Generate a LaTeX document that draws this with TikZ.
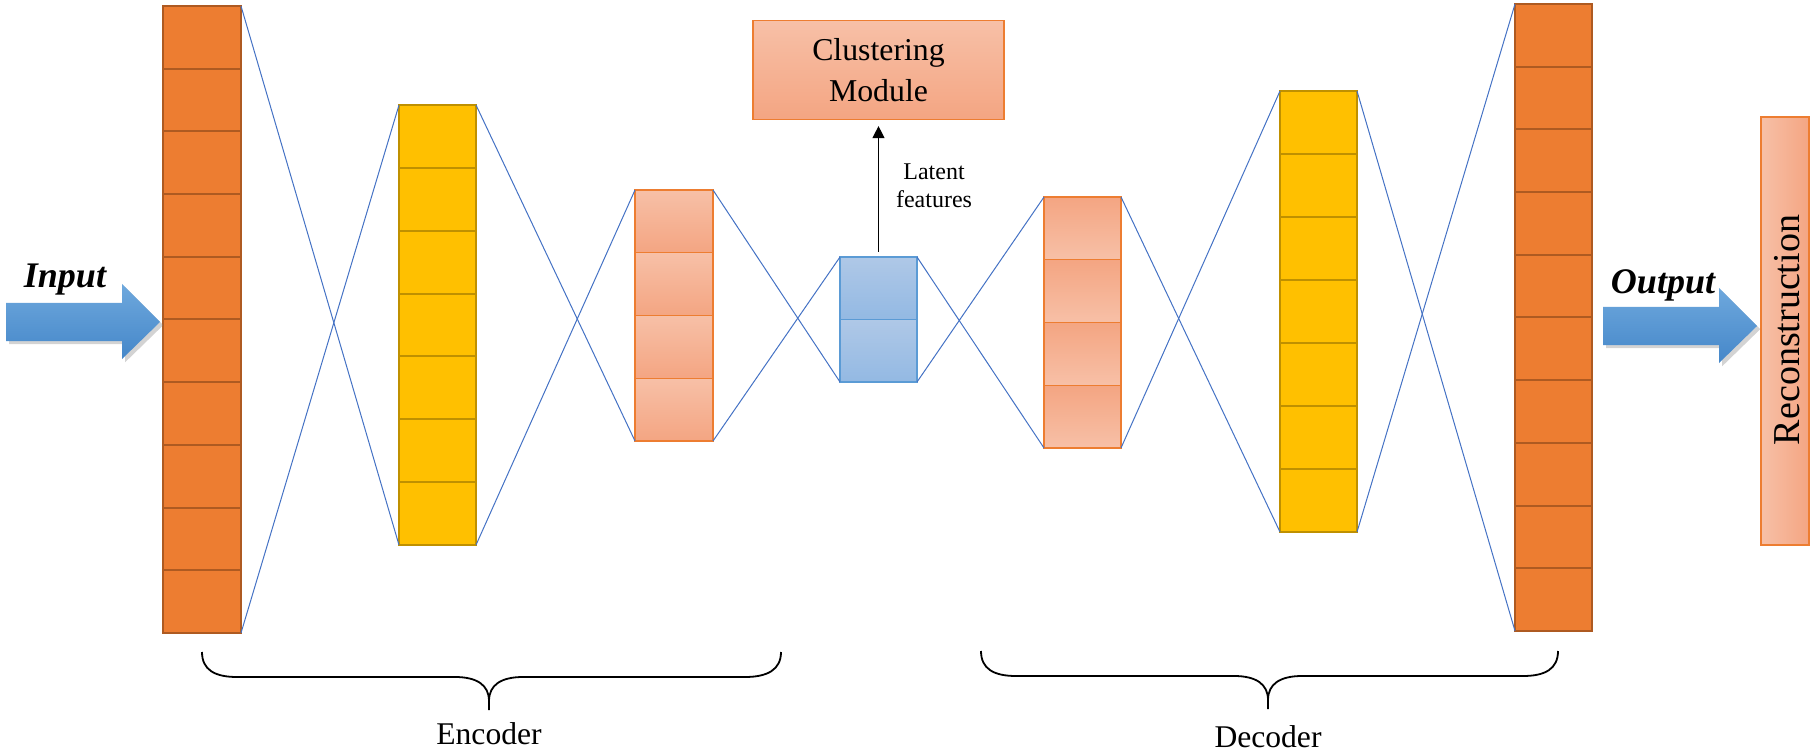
\documentclass[tikz,border=0pt]{standalone}
\usepackage{fontspec}
\setmainfont{Liberation Serif}
\usetikzlibrary{shadows,arrows.meta}
\definecolor{orA}{HTML}{ED7D31}
\definecolor{orB}{HTML}{AE5A21}
\definecolor{yeA}{HTML}{FFC000}
\definecolor{yeB}{HTML}{BF9000}
\definecolor{peL}{HTML}{F7C0A7}
\definecolor{peD}{HTML}{F4A582}
\definecolor{blL}{HTML}{AFC8E7}
\definecolor{blD}{HTML}{93B9E3}
\definecolor{blE}{HTML}{5B9BD5}
\definecolor{lnk}{HTML}{4472C4}
\definecolor{arL}{HTML}{6EA8DD}
\definecolor{arD}{HTML}{4587C9}
\tikzset{
  cellbox/.style={inner sep=0pt, outer sep=0pt, anchor=north west},
  orcell/.style={cellbox, fill=orA, draw=orB, line width=1pt},
  yecell/.style={cellbox, fill=yeA, draw=yeB, line width=1pt},
  peupcell/.style={cellbox, top color=peL, bottom color=peD, draw=orA, line width=0.6pt},
  pedowncell/.style={cellbox, top color=peD, bottom color=peL, draw=orA, line width=0.6pt},
  blcell/.style={cellbox, top color=blL, bottom color=blD, draw=blE, line width=0.6pt},
  layerframe/.style={inner sep=0pt, outer sep=0pt, anchor=north west},
  link/.style={draw=lnk, line width=0.5pt},
  bracepath/.style={draw=black, line width=0.9pt},
  bigarrow/.style={top color=arL, bottom color=arD, drop shadow={opacity=0.35, shadow xshift=1.6pt, shadow yshift=-1.6pt}},
  arrowlabel/.style={font=\fontsize{18}{20}\selectfont\bfseries\itshape, anchor=base, inner sep=0pt},
  bracelabel/.style={font=\fontsize{15.8}{19}\selectfont, anchor=base, inner sep=0pt},
}
\newcommand\mklayer[7]{%
  \foreach \i in {1,...,#7}{
    \node[#2, minimum width=#5*0.5pt, minimum height=#6*0.5pt] at (#3,{#4+(\i-1)*#6}) {};
  }
  \node[layerframe, minimum width=#5*0.5pt, minimum height=#7*#6*0.5pt] (#1) at (#3,#4) {};
}
\begin{document}
\begin{tikzpicture}[x=0.5pt, y=-0.5pt]
\useasboundingbox (0,0) rectangle (1815,754);

% layers
\mklayer{L1}{orcell}{163}{6}{78}{62.7}{10}
\mklayer{L2}{yecell}{399}{105}{77}{62.86}{7}
\mklayer{L3}{peupcell}{635}{190}{78}{62.75}{4}
\mklayer{Lat}{blcell}{840}{257}{77}{62.5}{2}
\mklayer{L5}{pedowncell}{1044}{197}{77}{62.75}{4}
\mklayer{L6}{yecell}{1280}{91}{77}{63}{7}
\mklayer{L7}{orcell}{1515}{4}{77}{62.7}{10}

% links
\draw[link] (L1.north east) -- (L2.south west);
\draw[link] (L1.south east) -- (L2.north west);
\draw[link] (L2.north east) -- (L3.south west);
\draw[link] (L2.south east) -- (L3.north west);
\draw[link] (L3.north east) -- (Lat.south west);
\draw[link] (L3.south east) -- (Lat.north west);
\draw[link] (Lat.north east) -- (L5.south west);
\draw[link] (Lat.south east) -- (L5.north west);
\draw[link] (L5.north east) -- (L6.south west);
\draw[link] (L5.south east) -- (L6.north west);
\draw[link] (L6.north east) -- (L7.south west);
\draw[link] (L6.south east) -- (L7.north west);

% clustering module
\node[top color=peL, bottom color=peD, draw=orA, line width=0.6pt, inner sep=0pt,
      minimum width=125.5pt, minimum height=49.5pt, align=center,
      font=\fontsize{15.9}{18.5}\selectfont] (CM) at (878.5,70) {Clustering\\[1.7pt]Module};
\draw[-{Triangle[length=6pt,width=6pt]}, line width=0.6pt, shorten <=2.5pt, shorten >=3pt] (Lat.north) -- (CM.south);
\node[font=\fontsize{12}{14}\selectfont, align=center, inner sep=0pt] (LF) at (934,186) {Latent\\features};

% reconstruction
\node[left color=peL, right color=peD, draw=orA, line width=0.6pt, inner sep=0pt,
      minimum width=24pt, minimum height=214pt] (RC) at (1785,331) {};
\node[rotate=90, font=\fontsize{19}{22}\selectfont, inner sep=0pt] (RT) at (1787,330) {Reconstruction};

% big arrows
\shade[bigarrow] (6,303) -- (122,303) -- (122,284) -- (160,322) -- (122,359) -- (122,341) -- (6,341) -- cycle;
\shade[bigarrow] (1603,307) -- (1719,307) -- (1719,288) -- (1757,326) -- (1719,363) -- (1719,345) -- (1603,345) -- cycle;
\node[arrowlabel] (IN) at (65,287) {Input};
\node[arrowlabel] (OUT) at (1663,293) {Output};

% braces
\draw[bracepath] (202,652) .. controls (202,670) and (215,677) .. (237,677) -- (455,677)
   .. controls (477,677) and (489,685) .. (489,701) -- (489,710);
\draw[bracepath] (489,701) .. controls (489,685) and (501,677) .. (523,677) -- (745,677)
   .. controls (767,677) and (781,670) .. (781,652);
\node[bracelabel] (ENC) at (489,744) {Encoder};

\draw[bracepath] (981,651) .. controls (981,669) and (994,676) .. (1016,676) -- (1234,676)
   .. controls (1256,676) and (1268,684) .. (1268,700) -- (1268,709);
\draw[bracepath] (1268,700) .. controls (1268,684) and (1280,676) .. (1302,676) -- (1523,676)
   .. controls (1545,676) and (1558,669) .. (1558,651);
\node[bracelabel] (DEC) at (1268,747) {Decoder};
\end{tikzpicture}
\end{document}
